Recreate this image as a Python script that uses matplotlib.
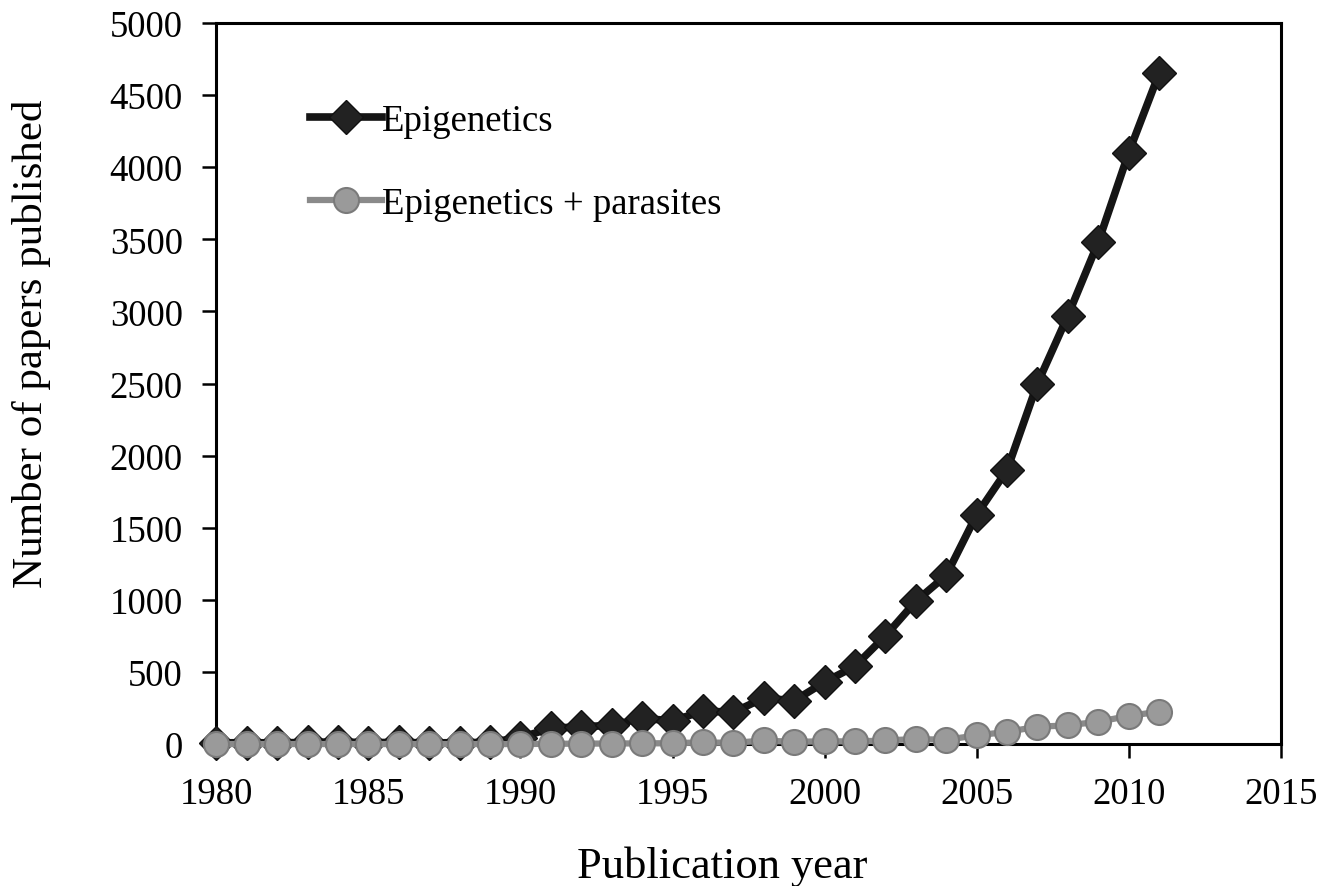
import matplotlib
matplotlib.use('Agg')
import matplotlib.pyplot as plt

plt.rcParams['font.family'] = ['Liberation Serif', 'DejaVu Serif']

years = list(range(1980, 2012))
epigenetics = [8, 10, 8, 12, 15, 10, 12, 8, 10, 12, 45, 110, 120, 130, 180, 160,
               230, 220, 320, 300, 430, 540, 750, 990, 1170, 1590, 1900,
               2500, 2970, 3480, 4100, 4650]
epi_parasites = [0, 0, 0, 0, 0, 0, 0, 0, 0, 0, 0, 2, 3, 4, 5, 6,
                 12, 8, 25, 15, 20, 18, 25, 35, 30, 60, 85,
                 120, 130, 155, 195, 225]

fig = plt.figure(figsize=(13.19, 8.87), dpi=100)
ax = fig.add_axes([0.164, 0.160, 0.807, 0.813])

ax.plot(years, epigenetics, color='#151515', lw=5.5, marker='D', markersize=17,
        markerfacecolor='#222222', markeredgecolor='#111111', label='Epigenetics',
        clip_on=False, zorder=3)
ax.plot(years, epi_parasites, color='#8a8a8a', lw=4.5, marker='o', markersize=18,
        markerfacecolor='#9a9a9a', markeredgecolor='#7a7a7a', markeredgewidth=1.5,
        label='Epigenetics + parasites', clip_on=False, zorder=4)

ax.set_xlim(1980, 2015)
ax.set_ylim(0, 5000)
ax.set_xticks(range(1980, 2016, 5))
ax.set_yticks(range(0, 5001, 500))
ax.tick_params(axis='both', direction='out', length=10, width=1.8, labelsize=26.5,
               colors='black')
ax.tick_params(axis='y', pad=14)
ax.tick_params(axis='x', pad=13)
for s in ax.spines.values():
    s.set_linewidth(2.2)
    s.set_color('black')

ax.set_xlabel('Publication year', fontsize=32)
ax.set_ylabel('Number of papers published', fontsize=31)
ax.xaxis.set_label_coords(0.475, -0.14)
ax.yaxis.set_label_coords(-0.155, 0.556)

ax.legend(loc='upper left', bbox_to_anchor=(0.057, 0.934), frameon=False,
          fontsize=26.5, handlelength=1.95, handletextpad=0.0, labelspacing=1.3)

fig.savefig('out.png', dpi=100, facecolor='white')
